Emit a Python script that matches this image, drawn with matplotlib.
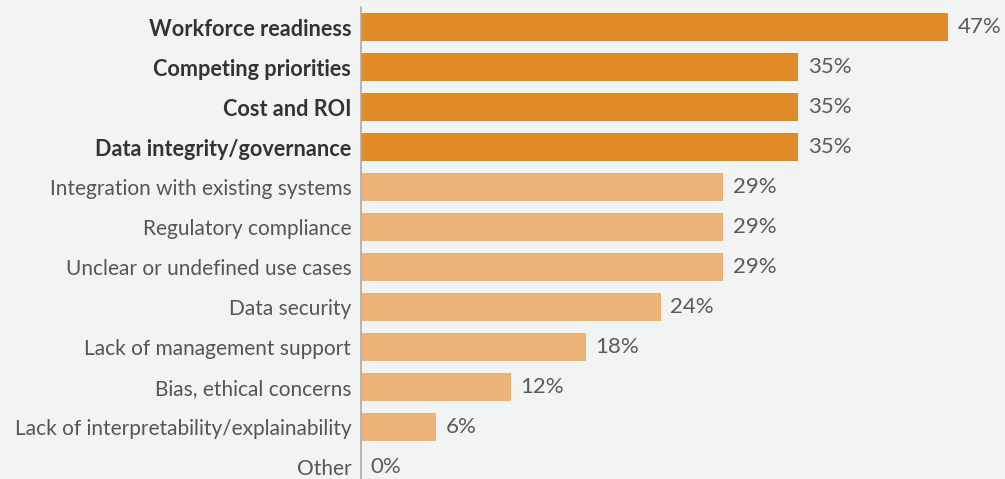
import matplotlib
matplotlib.use("Agg")
import matplotlib.pyplot as plt

categories = ["Workforce readiness", "Competing priorities", "Cost and ROI",
              "Data integrity/governance", "Integration with existing systems",
              "Regulatory compliance", "Unclear or undefined use cases",
              "Data security", "Lack of management support",
              "Bias, ethical concerns", "Lack of interpretability/explainability",
              "Other"]
values = [47, 35, 35, 35, 29, 29, 29, 24, 18, 12, 6, 0]
highlight = [True, True, True, True, False, False, False, False, False, False, False, False]

BG = "#F2F4F3"
DARK = "#E08A28"
LIGHT = "#EDB277"

fig = plt.figure(figsize=(10.05, 4.79), dpi=100, facecolor=BG)
ax = fig.add_axes([361/1005, 0, 1 - 361/1005, 1 - 7/479])
ax.set_facecolor(BG)

ys = list(range(len(categories)))
colors = [DARK if h else LIGHT for h in highlight]
ax.barh(ys, values, height=0.72, color=colors, zorder=2)

ax.set_xlim(0, (1005 - 361) / 12.49)
ax.set_ylim(11.3, -0.5)

for s in ["top", "right", "bottom"]:
    ax.spines[s].set_visible(False)
ax.spines["left"].set_color("#AAAAAA")
ax.spines["left"].set_linewidth(1.2)
ax.set_xticks([])
ax.set_yticks(ys)
ax.set_yticklabels(categories)
ax.tick_params(axis="y", length=0, pad=7)
for lbl, h in zip(ax.get_yticklabels(), highlight):
    lbl.set_fontfamily("Lato")
    if h:
        lbl.set_fontsize(15.6)
        lbl.set_fontweight("bold")
        lbl.set_color("#333333")
    else:
        lbl.set_fontsize(15)
        lbl.set_color("#555555")

for y, v in zip(ys, values):
    ax.text(v + 0.75, y, f"{v}%", va="center", ha="left", fontsize=16,
            family="Lato", color="#5A5A5A")

fig.savefig("out.png", dpi=100, facecolor=BG)
